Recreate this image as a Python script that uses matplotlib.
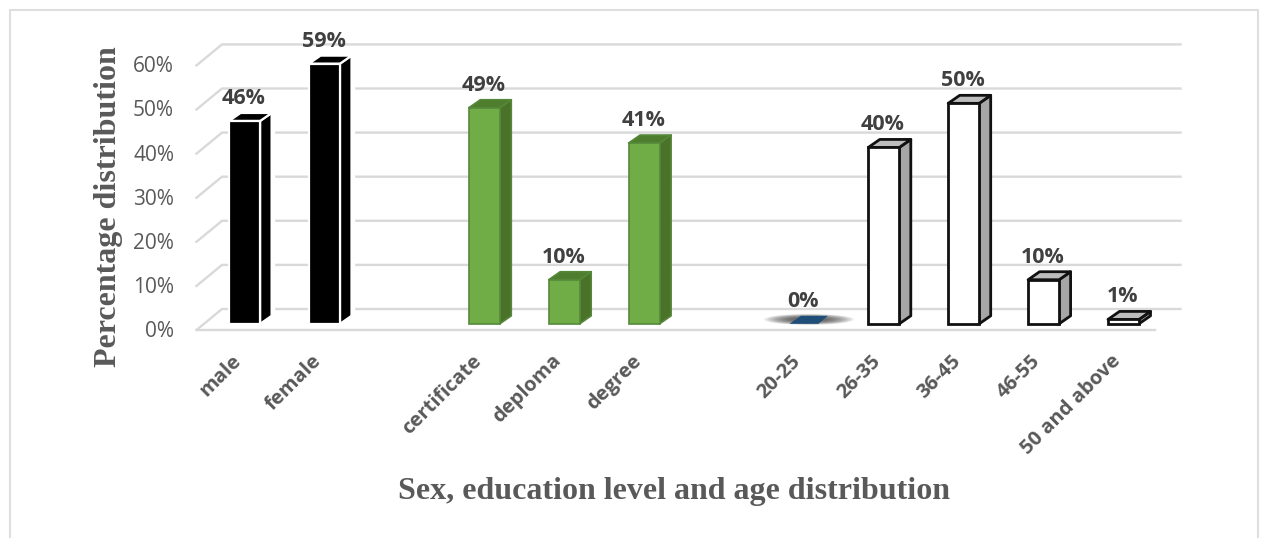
import matplotlib
matplotlib.use("Agg")
import matplotlib.pyplot as plt
from matplotlib.patches import Polygon, Ellipse, Rectangle

# Survey shares, in percent
categories = ["male", "female", "certificate", "deploma", "degree",
              "20-25", "26-35", "36-45", "46-55", "50 and above"]
slots = [0, 1, 3, 4, 5, 7, 8, 9, 10, 11]
values = [46, 59, 49, 10, 41, 0, 40, 50, 10, 1]
y_ticks = [0, 10, 20, 30, 40, 50, 60]
groups = ["sex", "sex", "edu", "edu", "edu", "age", "age", "age", "age", "age"]

W, H = 1261, 538
PX_X, PX_Y = 79.9, 4.41        # pixels per slot / per percent
X0, Y0 = 244.6, 330.0          # pixel position of slot 0 / of 0 %

STYLES = {
    "sex": dict(front="#000000", side="#000000", top="#000000", edge="#ffffff", lw=1.6),
    "edu": dict(front="#70AD47", side="#4A7229", top="#4F7D2E", edge="#55883A", lw=1.2),
    "age": dict(front="#ffffff", side="#A6A6A6", top="#BDBDBD", edge="#111111", lw=2.0),
}

fig = plt.figure(figsize=(W / 100, H / 100), dpi=100, facecolor="white")
ax = fig.add_axes([0, 0, 1, 1])
ax.set_xlim(-X0 / PX_X, (W - X0) / PX_X)
ax.set_ylim((Y0 - H) / PX_Y, Y0 / PX_Y)
ax.axis("off")

# Chart frame
frame = "#DEDEDE"
to_x = lambda px: (px - X0) / PX_X
to_y = lambda py: (Y0 - py) / PX_Y
ax.plot([to_x(10), to_x(10), to_x(1258), to_x(1258)],
        [to_y(538), to_y(9.5), to_y(9.5), to_y(538)], color=frame, lw=1.5, zorder=1)

# Floor and back wall of the 3-D box
grid = "#D9D9D9"
wall_dx, wall_dy = 25.5 / PX_X, 21 / PX_Y
left, right = to_x(196.5), to_x(1155)
for t in y_ticks:
    ax.plot([left, left + wall_dx, right + wall_dx],
            [t, t + wall_dy, t + wall_dy], color=grid, lw=1.7, zorder=2,
            solid_joinstyle="miter")
    ax.text(to_x(174), t - 1.5 / PX_Y, f"{t}%", ha="right", va="center", fontsize=15,
            family="Open Sans", color="#595959", zorder=6)
ax.plot([left, right], [0, 0], color=grid, lw=1.7, zorder=2)

# Bars with a visible front, side and top face
half = 15.5 / PX_X
dx, dy = 11.5 / PX_X, 8 / PX_Y
base = 1.4
for slot, value, group, name in zip(slots, values, groups, categories):
    s = STYLES[group]
    x0, x1 = slot - half, slot + half
    y0, y1 = base, base + value
    if value == 0:
        # Empty category: flat marker sitting on a soft shadow
        for k in range(14):
            ax.add_patch(Ellipse((slot + 5 / PX_X, y0 + 1.0), (90 - k * 4) / PX_X, (11 - k * 0.5) / PX_Y,
                                 color="#333333", alpha=0.08, lw=0, zorder=3))
        ax.add_patch(Polygon([(x0 + 1 / PX_X, y0), (x1 - 1 / PX_X, y0), (x1 + dx - 3 / PX_X, y0 + dy),
                              (x0 + dx + 1 / PX_X, y0 + dy)],
                             closed=True, facecolor="#1F4E79", edgecolor="none", zorder=4))
    else:
        if group == "sex":
            # White gutter between the black faces
            ax.add_patch(Polygon([(x0, y0), (x1 + dx + 2 / PX_X, y0), (x1 + dx + 2 / PX_X, y1 + dy),
                                  (x0, y1 + dy)], closed=True, facecolor="white", edgecolor="white", zorder=3))
        ax.add_patch(Polygon([(x1, y0), (x1 + dx, y0 + dy), (x1 + dx, y1 + dy), (x1, y1)], closed=True,
                             facecolor=s["side"], edgecolor=s["edge"], lw=s["lw"], joinstyle="round", zorder=4))
        ax.add_patch(Polygon([(x0, y1), (x1, y1), (x1 + dx, y1 + dy), (x0 + dx, y1 + dy)], closed=True,
                             facecolor=s["top"], edgecolor=s["edge"], lw=s["lw"], joinstyle="round", zorder=4))
        ax.add_patch(Rectangle((x0, y0), x1 - x0, y1 - y0, facecolor=s["front"],
                               edgecolor=s["edge"], lw=s["lw"], zorder=5))
    ax.text(slot - 1 / PX_X, y1 + dy + 4 / PX_Y, f"{value}%",
            ha="center", va="bottom", fontsize=15.5, fontweight="bold", family="Open Sans",
            color="#404040", zorder=7)
    ax.text(slot - 13 / PX_X, to_y(351), name, rotation=45, rotation_mode="anchor", ha="right", va="top",
            fontsize=14.5, fontweight="bold", family="Open Sans", color="#595959", zorder=6)

# Axis titles
ax.text(to_x(108), to_y(207), "Percentage distribution", rotation=90, ha="center", va="center",
        fontsize=23, fontweight="bold", family="Liberation Serif", color="#595959")
ax.text(to_x(674), to_y(491), "Sex, education level and age distribution", ha="center", va="center",
        fontsize=23, fontweight="bold", family="Liberation Serif", color="#595959")

fig.savefig("out.png", dpi=100)
